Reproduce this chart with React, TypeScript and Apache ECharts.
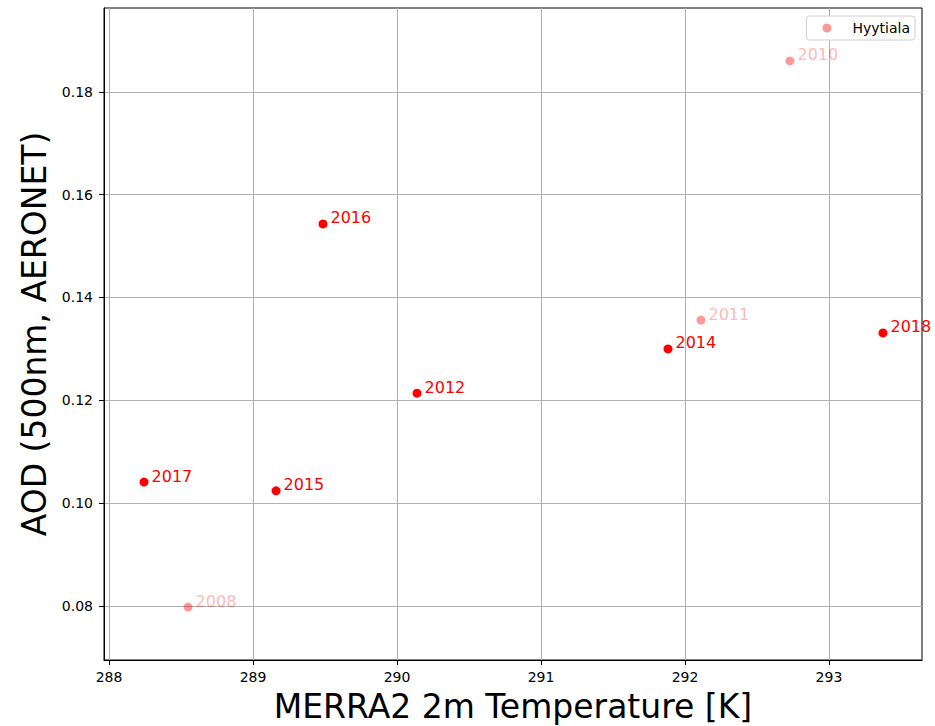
import React, { useEffect, useRef } from "react";
import * as echarts from "echarts";

const years = ["2008", "2010", "2011", "2012", "2014", "2015", "2016", "2017", "2018"];
const temps = [288.549, 292.729, 292.111, 290.139, 291.882, 289.16, 289.486, 288.243, 293.375];
const aod = [0.0798, 0.186, 0.1356, 0.1214, 0.13, 0.1024, 0.1543, 0.1041, 0.1331];
const faded = [true, true, true, false, false, false, false, false, false];
const xTicks = [288, 289, 290, 291, 292, 293];
const yTicks = [0.08, 0.1, 0.12, 0.14, 0.16, 0.18];

const FONT = "DejaVu Sans";
const FADED_MARK = "rgba(255,0,0,0.4)";
const FADED_TEXT = "rgba(255,0,0,0.3)";

export default function App() {
  const ref = useRef<HTMLDivElement>(null);
  useEffect(() => {
    if (!ref.current) return;
    const chart = echarts.init(ref.current, null, { renderer: "svg" });
    const data = years.map((y, i) => ({
      value: [temps[i], aod[i]],
      name: y,
      itemStyle: { color: faded[i] ? FADED_MARK : "#ff0000", opacity: 1 },
      label: { color: faded[i] ? FADED_TEXT : "#ff0000" },
    }));
    const axisCommon = {
      axisLine: { show: true, lineStyle: { color: "#000", width: 1 } },
      axisTick: { show: true, inside: false, length: 5, lineStyle: { color: "#000" } },
      splitLine: { show: true, lineStyle: { color: "#b0b0b0", width: 1 } },
    };
    chart.setOption({
      animation: false,
      textStyle: { fontFamily: FONT },
      grid: {
        left: 104,
        right: 13,
        top: 8,
        bottom: 66,
        outerBoundsMode: "none",
        containLabel: false,
        show: true,
        borderColor: "#000",
        borderWidth: 1,
        backgroundColor: "transparent",
      },
      legend: {
        show: true,
        right: 20,
        top: 16,
        orient: "vertical",
        icon: "circle",
        itemWidth: 9,
        itemHeight: 9,
        itemGap: 0,
        padding: [5, 5, 5, 16],
        borderColor: "#d0d0d0",
        borderWidth: 1,
        borderRadius: 3,
        backgroundColor: "#fff",
        textStyle: { fontFamily: FONT, fontSize: 14, color: "#000", padding: [0, 0, 0, 16] },
        data: [{ name: "Hyytiala", itemStyle: { color: FADED_MARK, opacity: 1 } }],
      },
      xAxis: {
        type: "value",
        min: 287.965,
        max: 293.646,
        ...axisCommon,
        axisTick: { ...axisCommon.axisTick, customValues: xTicks },
        axisLabel: {
          customValues: xTicks,
          fontFamily: FONT,
          fontSize: 14,
          color: "#000",
          margin: 10,
        },
        name: "MERRA2 2m Temperature [K]",
        nameLocation: "middle",
        nameGap: 30,
        nameTextStyle: { fontFamily: FONT, fontSize: 33, color: "#000" },
      },
      yAxis: {
        type: "value",
        min: 0.0695,
        max: 0.1963,
        ...axisCommon,
        axisTick: { ...axisCommon.axisTick, customValues: yTicks },
        axisLabel: {
          customValues: yTicks,
          formatter: (v: number) => v.toFixed(2),
          fontFamily: FONT,
          fontSize: 14,
          color: "#000",
          margin: 11,
        },
        name: "AOD (500nm, AERONET)",
        nameLocation: "middle",
        nameGap: 52,
        nameTextStyle: { fontFamily: FONT, fontSize: 33, color: "#000" },
      },
      series: [
        {
          name: "Hyytiala",
          type: "scatter",
          symbol: "circle",
          symbolSize: 9,
          itemStyle: { color: FADED_MARK, opacity: 1 },
          label: {
            show: true,
            position: "right",
            distance: 3,
            offset: [0, -6],
            formatter: (p: any) => p.name,
            fontFamily: FONT,
            fontSize: 16,
          },
          data,
        },
      ],
    });
    return () => chart.dispose();
  }, []);
  return (
    <div
      ref={ref}
      style={{ position: "fixed", left: 0, top: 0, width: 935, height: 726, background: "#fff" }}
    />
  );
}
